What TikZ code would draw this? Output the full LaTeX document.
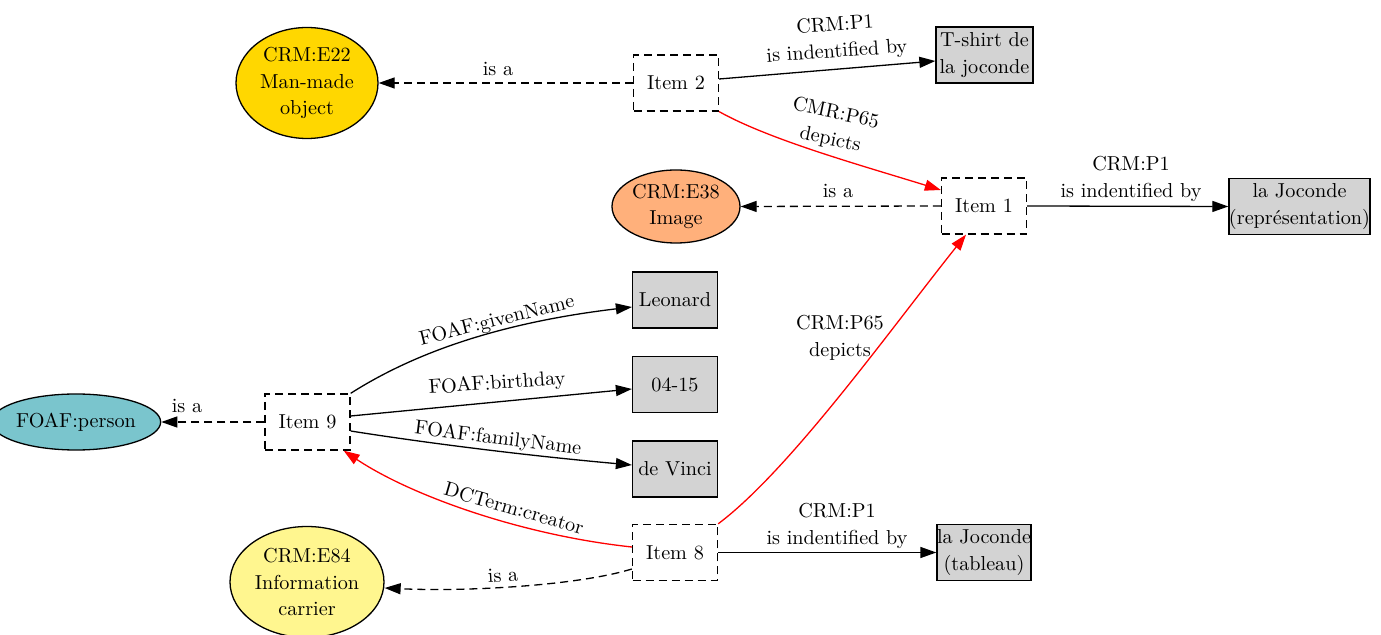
\documentclass[tikz,border=0pt]{standalone}
\usetikzlibrary{arrows.meta,shapes.geometric}
\definecolor{goldfill}{HTML}{FFD700}
\definecolor{salmonfill}{HTML}{FFB07B}
\definecolor{khakifill}{HTML}{FFF68F}
\definecolor{cadetfill}{HTML}{7AC5CD}
\definecolor{litgray}{HTML}{D3D3D3}
\begin{document}
\begin{tikzpicture}[x=0.5pt,y=-0.5pt,
  font=\fontsize{10.1}{13.3}\selectfont,
  item/.style={draw, dash pattern=on 4pt off 2.5pt, line width=0.65pt,
    minimum width=42.5pt, minimum height=28pt, inner sep=0pt, align=center},
  lit/.style={draw, fill=litgray, line width=0.65pt,
    minimum width=#1, minimum height=28pt, inner sep=0pt, align=center},
  cls/.style={ellipse, draw, line width=0.65pt, inner sep=0pt, align=center},
  rel/.style={-{Triangle[length=8pt,width=5.5pt]}, line width=0.65pt},
  isa/.style={rel, dash pattern=on 4pt off 2.5pt},
  dep/.style={rel, red},
  lab/.style={inner sep=0pt, align=center}]
\useasboundingbox (0,0) rectangle (1381,635);

% class nodes
\node[cls, fill=goldfill, minimum width=71pt, minimum height=55.5pt] (e22) at (307,83) {CRM:E22\\Man-made\\object};
\node[cls, fill=salmonfill, minimum width=64pt, minimum height=36.5pt] (e38) at (676,206.5) {CRM:E38\\Image};
\node[cls, fill=cadetfill, minimum width=68pt, minimum height=28pt] (person) at (76,422) {FOAF:person};
\node[cls, fill=khakifill, minimum width=77pt, minimum height=55.5pt] (e84) at (307,582) {CRM:E84\\Information\\carrier};

% items
\node[item] (i2) at (676,83) {Item 2};
\node[item] (i1) at (984,206) {Item 1};
\node[item] (i9) at (307.5,422) {Item 9};
\node[item] (i8) at (675,552.5) {Item 8};

% literals
\node[lit=48.5pt] (ts) at (984.5,55) {T-shirt de\\la joconde};
\node[lit=69.5pt] (rep) at (1299.5,206.5) {la Joconde\\(représentation)};
\node[lit=42.5pt] (leo) at (675,300) {Leonard};
\node[lit=42.5pt] (bd) at (675,384.5) {04-15};
\node[lit=42.5pt] (dv) at (675,469) {de Vinci};
\node[lit=47pt] (tab) at (984,552.5) {la Joconde\\(tableau)};

% edges
\draw[isa] (i2.west) -- (e22.east);
\draw[rel] ([yshift=2pt]i2.east) -- ([yshift=-3pt]ts.west);
\draw[dep] (i2.south east) .. controls (770,140) and (860,165) .. ([yshift=8pt]i1.west);
\draw[isa] (i1.west) -- (e38.east);
\draw[rel] (i1.east) -- (rep.west);
\draw[isa] (i9.west) -- (person.east);
\draw[rel] (i9.north east) .. controls (400,362) and (480,325) .. ([yshift=-3.5pt]leo.west);
\draw[rel] ([yshift=3pt]i9.east) -- ([yshift=-2.25pt]bd.west);
\draw[rel] ([yshift=-4.5pt]i9.east) .. controls (420,442) and (520,455) .. ([yshift=2pt]dv.west);
\draw[dep] ([yshift=2.75pt]i8.west) .. controls (520,535) and (410,495) .. ([xshift=-3.5pt]i9.south east);
\draw[isa] ([yshift=-8.25pt]i8.west) .. controls (580,585) and (470,592) .. ([yshift=-3pt]e84.east);
\draw[dep] (i8.north east) .. controls (790,470) and (890,330) .. ([xshift=-9pt]i1.south);
\draw[rel] (i8.east) -- (tab.west);

% edge labels
\node[lab] (l1) at (498,69) {is a};
\node[lab, rotate=4] (l2) at (836,39) {CRM:P1\\is indentified by};
\node[lab, rotate=-12] (l3) at (833,127) {CMR:P65\\depicts};
\node[lab] (l4) at (838,191) {is a};
\node[lab] (l5) at (1131,179) {CRM:P1\\is indentified by};
\node[lab] (l6) at (187,406) {is a};
\node[lab, rotate=14] (l7) at (497,321) {FOAF:givenName};
\node[lab, rotate=4] (l8) at (497,384) {FOAF:birthday};
\node[lab, rotate=-7] (l9) at (498,439) {FOAF:familyName};
\node[lab] (l10) at (840,338) {CRM:P65\\depicts};
\node[lab, rotate=-16] (l11) at (514,508) {DCTerm:creator};
\node[lab, rotate=3] (l12) at (503,575) {is a};
\node[lab] (l13) at (837,526) {CRM:P1\\is indentified by};
\end{tikzpicture}
\end{document}
